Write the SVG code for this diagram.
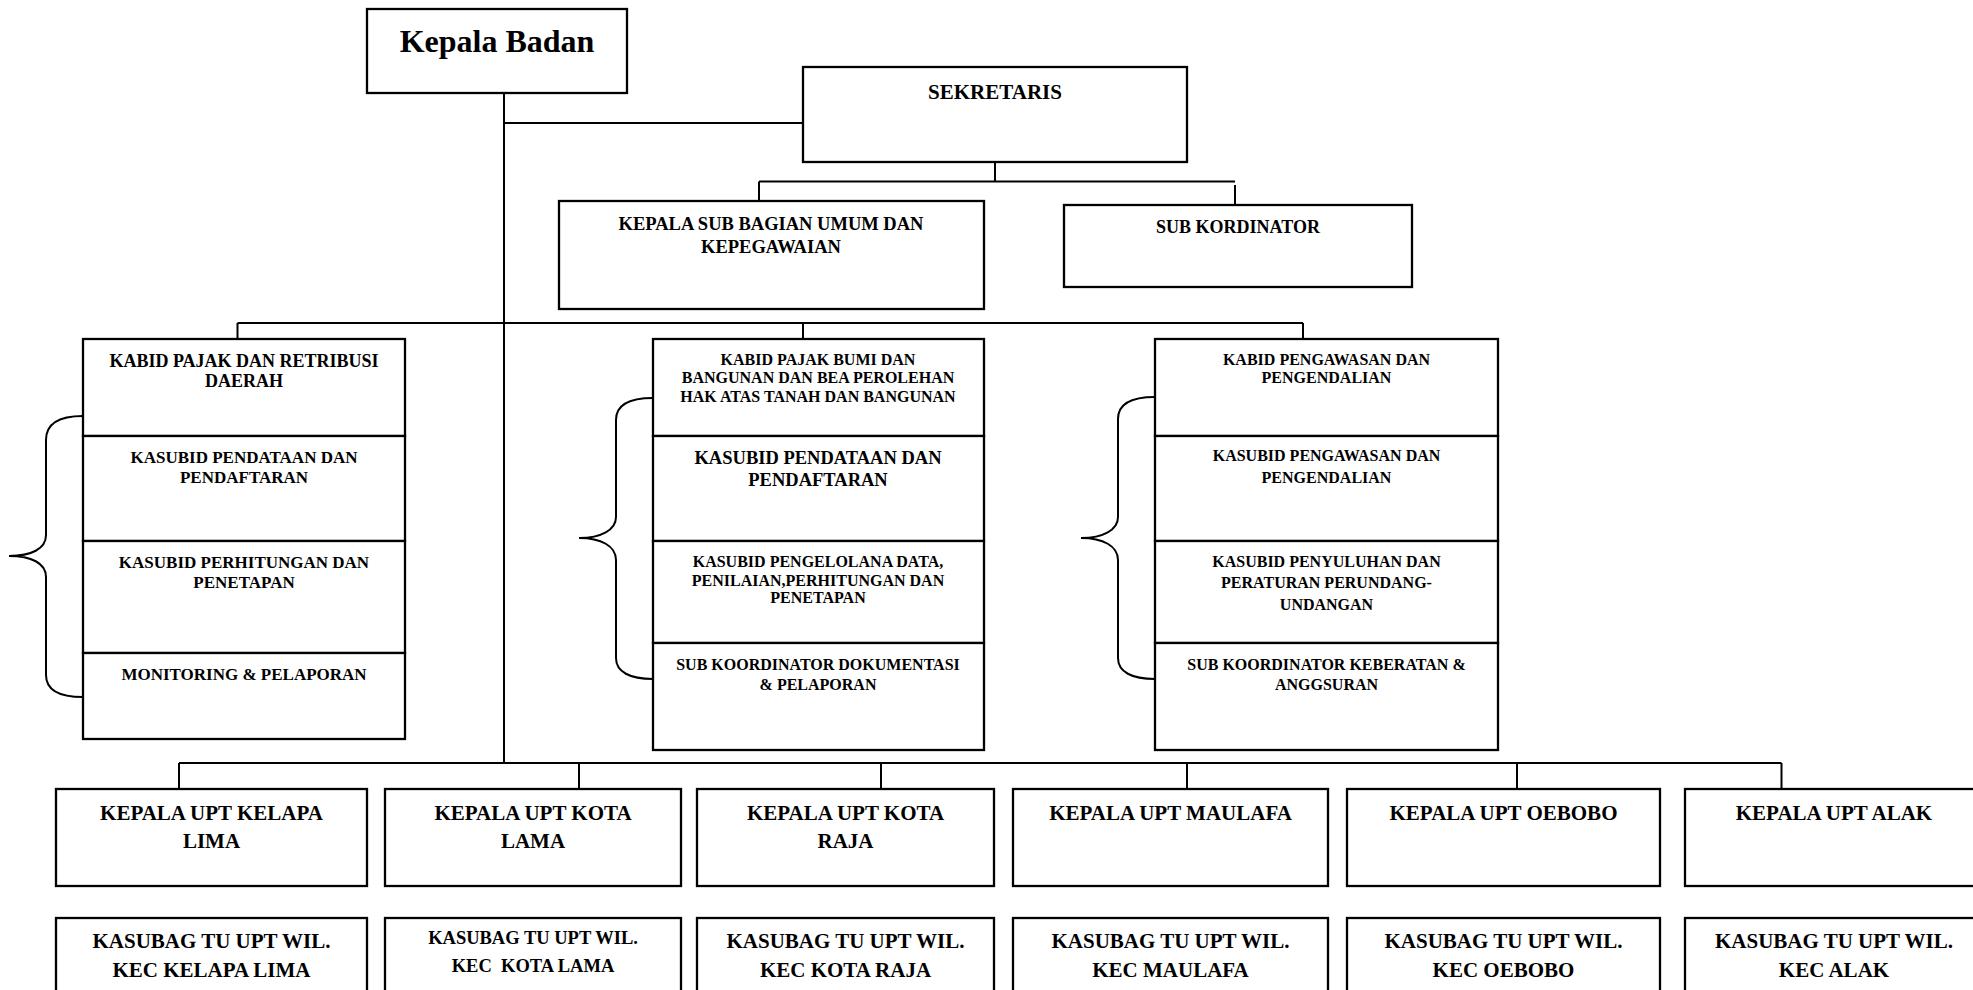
<svg xmlns="http://www.w3.org/2000/svg" width="1973" height="990" viewBox="0 0 1973 990">
<style>
.box{fill:#fff;stroke:#000;stroke-width:2.3}
.ln{fill:none;stroke:#000;stroke-width:2}
.br{fill:none;stroke:#000;stroke-width:2}
text{font-family:"Liberation Serif","Times New Roman",serif;font-weight:bold;fill:#000;text-anchor:middle}
.t32{font-size:32px}
.t21{font-size:21px}
.t18{font-size:18.5px}
.t17{font-size:17px}
.t16{font-size:16px}
.t18s{font-size:18px}
</style>
<rect width="1973" height="990" fill="#fff"/>
<g id="connectors">
<path class="ln" d="M504,93 V763"/>
<path class="ln" d="M504,123 H803"/>
<path class="ln" d="M995,162 V181.5 M759,181.5 H1235 M759,181.5 V201 M1235,185 V205"/>
<path class="ln" d="M237.5,323 H1303 M237.5,323 V339 M803,323 V339 M1303,323 V339"/>
<path class="ln" d="M179,763 H1781.5 M179,763 V789 M579,763 V789 M881,763 V789 M1187,763 V789 M1517,763 V789 M1781.5,763 V789"/>
</g>
<g id="braces">
<path class="br" d="M83,416 C60,416 46,423 46,440 L46,535 C46,549 31,556 9,556 C31,556 46,563 46,577 L46,675 C46,690 60,697 83,697"/>
<path class="br" d="M653,398 C630,398 616,405 616,420 L616,517 C616,530 601,538 579,538 C601,538 616,546 616,560 L616,658 C616,672 630,679 653,679"/>
<path class="br" d="M1155,397 C1132,397 1118,404 1118,419 L1118,517 C1118,530 1103,538 1081,538 C1103,538 1118,546 1118,560 L1118,658 C1118,672 1132,679 1155,679"/>
</g>
<g id="kepala-badan"><rect class="box" x="367" y="9" width="260" height="84"/><text class="t32" x="497" y="52">Kepala Badan</text></g>
<g id="sekretaris"><rect class="box" x="803" y="67" width="384" height="95"/><text class="t21" x="995" y="99">SEKRETARIS</text></g>
<g id="kasubag-umum"><rect class="box" x="559" y="201" width="425" height="108"/><text class="t18" x="771" y="230">KEPALA SUB BAGIAN UMUM DAN</text><text class="t18" x="771" y="253">KEPEGAWAIAN</text></g>
<g id="sub-kordinator"><rect class="box" x="1064" y="205" width="348" height="82"/><text class="t18s" x="1238" y="233">SUB KORDINATOR</text></g>

<g id="kabid-pajak"><rect class="box" x="83" y="339" width="322" height="97"/><text class="t18s" x="244" y="367">KABID PAJAK DAN RETRIBUSI</text><text class="t18s" x="244" y="387">DAERAH</text></g>
<g id="kasubid-pendataan-1"><rect class="box" x="83" y="436" width="322" height="105"/><text class="t17" x="244" y="463">KASUBID PENDATAAN DAN</text><text class="t17" x="244" y="483">PENDAFTARAN</text></g>
<g id="kasubid-perhitungan"><rect class="box" x="83" y="541" width="322" height="112"/><text class="t17" x="244" y="568">KASUBID PERHITUNGAN DAN</text><text class="t17" x="244" y="588">PENETAPAN</text></g>
<g id="monitoring"><rect class="box" x="83" y="653" width="322" height="86"/><text class="t17" x="244" y="680">MONITORING &amp; PELAPORAN</text></g>

<g id="kabid-pbb"><rect class="box" x="653" y="339" width="331" height="97"/><text class="t16" x="818" y="365">KABID PAJAK BUMI DAN</text><text class="t16" x="818" y="383">BANGUNAN DAN BEA PEROLEHAN</text><text class="t16" x="818" y="401.5">HAK ATAS TANAH DAN BANGUNAN</text></g>
<g id="kasubid-pendataan-2"><rect class="box" x="653" y="436" width="331" height="105"/><text class="t18" x="818" y="464">KASUBID PENDATAAN DAN</text><text class="t18" x="818" y="486">PENDAFTARAN</text></g>
<g id="kasubid-pengelolaan"><rect class="box" x="653" y="541" width="331" height="102"/><text class="t16" x="818" y="566.5">KASUBID PENGELOLANA DATA,</text><text class="t16" x="818" y="585.5">PENILAIAN,PERHITUNGAN DAN</text><text class="t16" x="818" y="603">PENETAPAN</text></g>
<g id="sub-koor-dokumentasi"><rect class="box" x="653" y="643" width="331" height="107"/><text class="t16" x="818" y="670">SUB KOORDINATOR DOKUMENTASI</text><text class="t16" x="818" y="690">&amp; PELAPORAN</text></g>

<g id="kabid-pengawasan"><rect class="box" x="1155" y="339" width="343" height="97"/><text class="t16" x="1326.5" y="365">KABID PENGAWASAN DAN</text><text class="t16" x="1326.5" y="383">PENGENDALIAN</text></g>
<g id="kasubid-pengawasan"><rect class="box" x="1155" y="436" width="343" height="105"/><text class="t16" x="1326.5" y="460.5">KASUBID PENGAWASAN DAN</text><text class="t16" x="1326.5" y="483">PENGENDALIAN</text></g>
<g id="kasubid-penyuluhan"><rect class="box" x="1155" y="541" width="343" height="102"/><text class="t16" x="1326.5" y="566.5">KASUBID PENYULUHAN DAN</text><text class="t16" x="1326.5" y="588">PERATURAN PERUNDANG-</text><text class="t16" x="1326.5" y="610">UNDANGAN</text></g>
<g id="sub-koor-keberatan"><rect class="box" x="1155" y="643" width="343" height="107"/><text class="t16" x="1326.5" y="670">SUB KOORDINATOR KEBERATAN &amp;</text><text class="t16" x="1326.5" y="690">ANGGSURAN</text></g>

<g id="upt-kelapa-lima"><rect class="box" x="56" y="789" width="311" height="97"/><text class="t21" x="211.5" y="820">KEPALA UPT KELAPA</text><text class="t21" x="211.5" y="848">LIMA</text></g>
<g id="upt-kota-lama"><rect class="box" x="385" y="789" width="296" height="97"/><text class="t21" x="533" y="820">KEPALA UPT KOTA</text><text class="t21" x="533" y="848">LAMA</text></g>
<g id="upt-kota-raja"><rect class="box" x="697" y="789" width="297" height="97"/><text class="t21" x="845.5" y="820">KEPALA UPT KOTA</text><text class="t21" x="845.5" y="848">RAJA</text></g>
<g id="upt-maulafa"><rect class="box" x="1013" y="789" width="315" height="97"/><text class="t21" x="1170.5" y="820">KEPALA UPT MAULAFA</text></g>
<g id="upt-oebobo"><rect class="box" x="1347" y="789" width="313" height="97"/><text class="t21" x="1503.5" y="820">KEPALA UPT OEBOBO</text></g>
<g id="upt-alak"><rect class="box" x="1685" y="789" width="300" height="97"/><text class="t21" x="1834" y="820">KEPALA UPT ALAK</text></g>

<g id="tu-kelapa-lima"><rect class="box" x="56" y="918" width="311" height="90"/><text class="t21" x="211.5" y="948">KASUBAG TU UPT WIL.</text><text class="t21" x="211.5" y="977">KEC KELAPA LIMA</text></g>
<g id="tu-kota-lama"><rect class="box" x="385" y="918" width="296" height="90"/><text class="t18" x="533" y="944">KASUBAG TU UPT WIL.</text><text class="t18" x="533" y="972" style="white-space:pre">KEC  KOTA LAMA</text></g>
<g id="tu-kota-raja"><rect class="box" x="697" y="918" width="297" height="90"/><text class="t21" x="845.5" y="948">KASUBAG TU UPT WIL.</text><text class="t21" x="845.5" y="977">KEC KOTA RAJA</text></g>
<g id="tu-maulafa"><rect class="box" x="1013" y="918" width="315" height="90"/><text class="t21" x="1170.5" y="948">KASUBAG TU UPT WIL.</text><text class="t21" x="1170.5" y="977">KEC MAULAFA</text></g>
<g id="tu-oebobo"><rect class="box" x="1347" y="918" width="313" height="90"/><text class="t21" x="1503.5" y="948">KASUBAG TU UPT WIL.</text><text class="t21" x="1503.5" y="977">KEC OEBOBO</text></g>
<g id="tu-alak"><rect class="box" x="1685" y="918" width="300" height="90"/><text class="t21" x="1834" y="948">KASUBAG TU UPT WIL.</text><text class="t21" x="1834" y="977">KEC ALAK</text></g>
</svg>
